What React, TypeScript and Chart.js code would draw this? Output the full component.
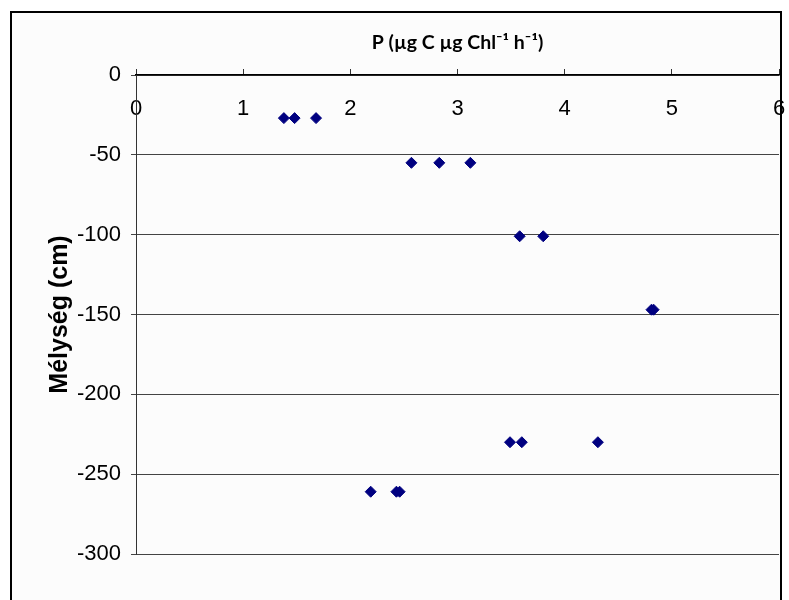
import { useEffect, useRef } from "react";
import { Chart, registerables } from "chart.js";

Chart.register(...registerables);

// P values (µg C µg Chl-1 h-1) and matching depths (cm)
const pValues = [1.38, 1.48, 1.68, 2.57, 2.83, 3.12, 3.58, 3.8, 4.81, 4.83, 3.49, 3.6, 4.31, 2.19, 2.43, 2.46];
const depthValues = [-27, -27, -27, -55, -55, -55, -101, -101, -147, -147, -230, -230, -230, -261, -261, -261];

const xTitle = "P (µg C µg Chl⁻¹ h⁻¹)";
const yTitle = "Mélység (cm)";
const xRange = [0, 6];
const yRange = [-300, 0];
const xStep = 1;
const yStep = 50;

const tickFont = { family: "'Liberation Sans', Arial, sans-serif", size: 22 };

export default function App() {
  const ref = useRef<HTMLCanvasElement>(null);
  useEffect(() => {
    const chart = new Chart(ref.current as HTMLCanvasElement, {
      type: "scatter",
      data: {
        datasets: [
          {
            data: pValues.map((x, i) => ({ x, y: depthValues[i] })),
            pointStyle: "rectRot",
            pointRadius: 5.5,
            backgroundColor: "#000080",
            borderColor: "#000080",
            borderWidth: 1,
          },
        ],
      },
      options: {
        responsive: false,
        animation: false,
        layout: { padding: { left: 0, right: 10, top: 0, bottom: 46 } },
        plugins: {
          legend: { display: false },
          tooltip: { enabled: false },
          title: {
            display: true,
            text: xTitle,
            fullSize: false,
            color: "#000",
            font: { family: "Lato, 'DejaVu Sans', sans-serif", size: 19.5, weight: "bold" },
            padding: { top: 18, bottom: 20.6 },
          },
        },
        scales: {
          x: {
            type: "linear",
            position: { y: 0 } as any,
            min: xRange[0],
            max: xRange[1],
            ticks: { stepSize: xStep, color: "#000", font: tickFont, padding: 0 },
            grid: { drawOnChartArea: false, drawTicks: true, tickLength: 20.3, tickColor: "rgba(0,0,0,0)" },
            border: { display: true, color: "#000", width: 1.5 },
          },
          x2: {
            type: "linear",
            position: { y: 0 } as any,
            min: xRange[0],
            max: xRange[1],
            ticks: { stepSize: xStep, display: false },
            grid: { drawOnChartArea: false, drawTicks: true, tickLength: -6, tickColor: "#333" },
            border: { display: false },
          },
          y: {
            type: "linear",
            position: "left",
            min: yRange[0],
            max: yRange[1],
            ticks: { stepSize: yStep, color: "#000", font: tickFont, padding: 10 },
            grid: { color: "#444", tickLength: 5, lineWidth: 1 },
            border: { color: "#333" },
            title: {
              display: true,
              text: yTitle,
              color: "#000",
              font: { family: "'Liberation Sans', Arial, sans-serif", size: 25, weight: "bold" },
              padding: { top: 33, bottom: 0 },
            },
            afterFit: (s: any) => {
              s.width = 124;
            },
          },
        },
      },
    });
    return () => chart.destroy();
  }, []);
  return (
    <>
      <div
        style={{
          position: "fixed",
          left: 10,
          top: 11,
          width: 772,
          height: 589,
          borderTop: "2px solid #000",
          borderLeft: "2px solid #000",
          borderRight: "2px solid #000",
          borderBottom: "none",
          background: "#fcfcfc",
          boxSizing: "border-box",
        }}
      />
      <canvas
        ref={ref}
        width={777}
        height={587}
        style={{ position: "fixed", left: 12, top: 13, width: 777, height: 587 }}
      />
    </>
  );
}
